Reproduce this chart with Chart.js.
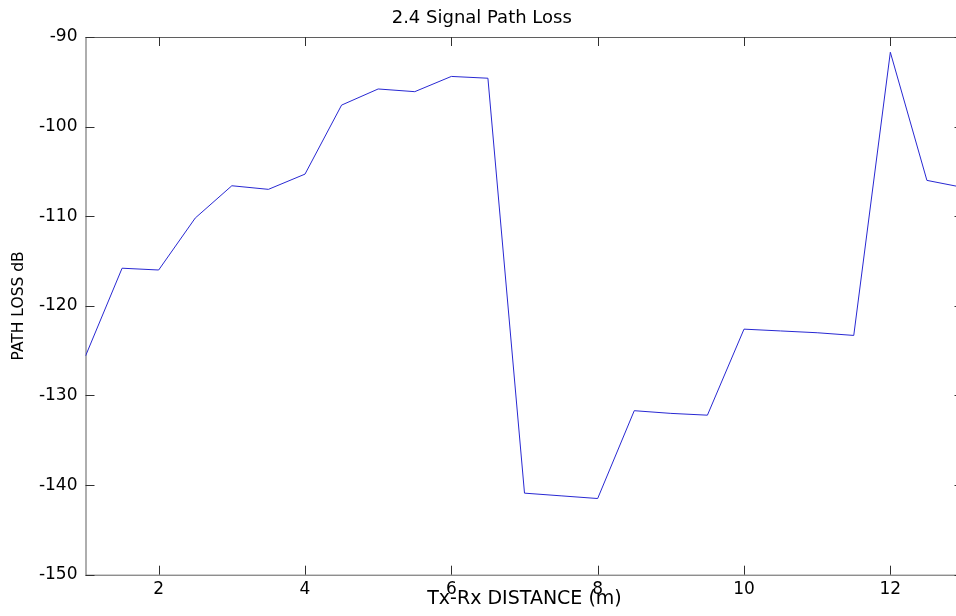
<!DOCTYPE html>
<html>
<head>
<meta charset="utf-8">
<title>2.4 Signal Path Loss</title>
<script src="https://cdn.jsdelivr.net/npm/chart.js@4/dist/chart.umd.min.js"></script>
<style>
  html, body { margin: 0; padding: 0; background: #fff; overflow: hidden; }
  #wrap { width: 956px; height: 616px; overflow: hidden; }
</style>
</head>
<body>
<div id="wrap">
  <canvas id="pathLoss" width="970" height="616"></canvas>
</div>
<script>
// distance in metres, loss in dB
const distance = [1, 1.5, 2, 2.5, 3, 3.5, 4, 4.5, 5, 5.5, 6, 6.5, 7, 7.5, 8, 8.5, 9, 9.5, 10, 10.5, 11, 11.5, 12, 12.5, 13];
const pathLoss = [-125.6, -115.8, -116.0, -110.2, -106.6, -107.0, -105.3, -97.6, -95.8, -96.1, -94.4, -94.6,
                  -140.9, -141.2, -141.5, -131.7, -132.0, -132.2, -122.6, -122.8, -123.0, -123.3, -91.7, -106.0, -106.8];
const xTicks = [2, 4, 6, 8, 10, 12];
const yTicks = [-150, -140, -130, -120, -110, -100, -90];

const FONT = "'DejaVu Sans', 'Liberation Sans', Arial, sans-serif";

// matlab style box with ticks pointing inwards
const boxPlugin = {
  id: 'matlabBox',
  beforeDatasetsDraw(chart) {
    const ctx = chart.ctx;
    const a = chart.chartArea;
    const xs = chart.scales.x, ys = chart.scales.y;
    const len = 9;
    ctx.save();
    ctx.strokeStyle = '#5f5f5f';
    ctx.lineWidth = 1;
    ctx.strokeRect(a.left + 0.5, a.top + 0.5, a.right - a.left, a.bottom - a.top);
    ctx.strokeStyle = '#303030';
    ctx.beginPath();
    xs.ticks.forEach(t => {
      const px = Math.round(xs.getPixelForValue(t.value)) + 0.5;
      ctx.moveTo(px, a.bottom); ctx.lineTo(px, a.bottom - len);
      ctx.moveTo(px, a.top); ctx.lineTo(px, a.top + len);
    });
    ys.ticks.forEach(t => {
      const py = Math.round(ys.getPixelForValue(t.value)) + 0.5;
      ctx.moveTo(a.left, py); ctx.lineTo(a.left + len, py);
      ctx.moveTo(a.right, py); ctx.lineTo(a.right - len, py);
    });
    ctx.stroke();
    ctx.restore();
  }
};

const points = distance.map((d, i) => ({x: d, y: pathLoss[i]}));

const config = {
  type: 'line',
  data: {
    datasets: [{
      data: points,
      borderColor: 'rgb(40,40,210)',
      borderWidth: 1,
      pointRadius: 0,
      tension: 0,
      fill: false
    }]
  },
  options: {
    responsive: false,
    animation: false,
    devicePixelRatio: 1,
    layout: { padding: { left: 0, right: 6.5, top: 0, bottom: 0 } },
    plugins: {
      legend: { display: false },
      tooltip: { enabled: false },
      title: {
        display: true,
        text: '2.4 Signal Path Loss',
        color: '#000',
        font: { family: FONT, size: 18, weight: 'normal' },
        padding: { top: 8, bottom: 7.4 }
      }
    },
    scales: {
      x: {
        type: 'linear',
        min: 1,
        max: 13,
        afterBuildTicks(scale) { scale.ticks = xTicks.map(v => ({value: v})); },
        afterFit(scale) { scale.height = 41.3; },
        grid: { display: false, drawTicks: false },
        border: { display: false },
        ticks: {
          color: '#000',
          padding: 5,
          maxRotation: 0,
          font: { family: FONT, size: 17 }
        },
        title: {
          display: true,
          text: 'Tx-Rx DISTANCE (m)',
          color: '#000',
          font: { family: FONT, size: 19 },
          padding: { top: 0, bottom: 5.6 }
        }
      },
      y: {
        type: 'linear',
        min: -150,
        max: -90,
        afterBuildTicks(scale) { scale.ticks = yTicks.map(v => ({value: v})); },
        afterFit(scale) { scale.width = 85.5; },
        grid: { display: false, drawTicks: false },
        border: { display: false },
        ticks: {
          color: '#000',
          padding: 8,
          font: { family: FONT, size: 17 }
        },
        title: {
          display: true,
          text: 'PATH LOSS dB',
          color: '#000',
          font: { family: FONT, size: 15.5 },
          padding: { top: 10, bottom: 0 }
        }
      }
    }
  },
  plugins: [boxPlugin]
};

const chart = new Chart(document.getElementById('pathLoss'), config);
</script>
</body>
</html>
